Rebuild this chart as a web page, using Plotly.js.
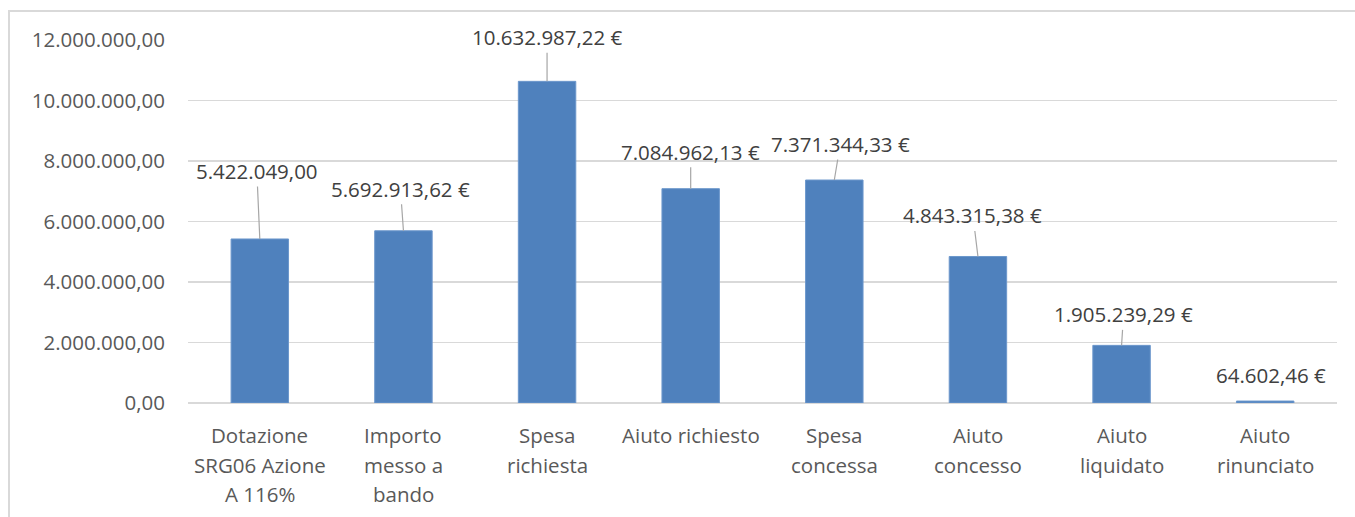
<!DOCTYPE html>
<html><head><meta charset="utf-8">
<script src="https://cdn.plot.ly/plotly-3.0.1.min.js"></script>
<style>
html,body{margin:0;padding:0;background:#fff;overflow:hidden}
#wrap{position:relative;width:1355px;height:517px;overflow:hidden}
#chart{width:1355px;height:517px}
#frame{position:absolute;left:8px;top:10px;width:1400px;height:600px;border:2px solid #d9d9d9;pointer-events:none}
</style></head><body>
<div id="wrap"><div id="chart"></div><div id="frame"></div></div>
<script>
// ---- data ----
const categoryLines = [
  ["Dotazione", "SRG06 Azione", "A 116%"],
  ["Importo", "messo a", "bando"],
  ["Spesa", "richiesta"],
  ["Aiuto richiesto"],
  ["Spesa", "concessa"],
  ["Aiuto", "concesso"],
  ["Aiuto", "liquidato"],
  ["Aiuto", "rinunciato"]
];
const categories = categoryLines.map(l => l.join(" "));
const values = [5422049.00, 5692913.62, 10632987.22, 7084962.13, 7371344.33, 4843315.38, 1905239.29, 64602.46];
const dataLabels = ["5.422.049,00", "5.692.913,62 €", "10.632.987,22 €", "7.084.962,13 €", "7.371.344,33 €", "4.843.315,38 €", "1.905.239,29 €", "64.602,46 €"];
const yTickValues = [0, 2000000, 4000000, 6000000, 8000000, 10000000, 12000000];

// ---- label placement (pixels) ----
const labelOffsetX = [-3, -3, 0, 0, 6, -5, 2, 6];
const labelOffsetY = [-68, -42, -44, -37, -36, -41, -31, -26];
const labelHasLeader = [true, true, true, true, true, true, true, false];

const FONT = "'Open Sans', Lato, sans-serif";
const FS = 20.5;

const trace = {
  type: "bar",
  x: categories,
  y: values,
  width: 0.4,
  marker: {color: "#4f81bd", line: {color: "#6c97cc", width: 1}},
  hoverinfo: "none"
};

const annotations = [];
values.forEach((v, i) => {
  if (labelHasLeader[i]) {
    annotations.push({
      x: categories[i], y: v, xref: "x", yref: "y",
      text: dataLabels[i], showarrow: true, arrowhead: 0, arrowwidth: 1.2,
      arrowcolor: "#a6a6a6", ax: labelOffsetX[i], ay: labelOffsetY[i],
      font: {family: FONT, size: FS, color: "#404040"}, borderpad: 1
    });
  } else {
    annotations.push({
      x: categories[i], y: v, xref: "x", yref: "y",
      text: dataLabels[i], showarrow: false, xshift: labelOffsetX[i], yshift: -labelOffsetY[i],
      yanchor: "middle", font: {family: FONT, size: FS, color: "#404040"}
    });
  }
});
categoryLines.forEach((lines, i) => {
  lines.forEach((t, j) => {
    annotations.push({
      x: categories[i], y: 0, xref: "x", yref: "paper",
      text: t, showarrow: false, yanchor: "middle", yshift: -(32 + j * 29.5),
      font: {family: FONT, size: FS, color: "#595959"}
    });
  });
});

const layout = {
  width: 1355, height: 517,
  margin: {l: 188, r: 18, t: 40, b: 114, pad: 0},
  paper_bgcolor: "#fff", plot_bgcolor: "#fff",
  separators: ",.",
  showlegend: false,
  font: {family: FONT, size: FS, color: "#595959"},
  xaxis: {
    type: "category", showticklabels: false, showgrid: false, zeroline: false,
    showline: false, ticks: "", range: [-0.5, 7.5]
  },
  yaxis: {
    range: [0, 12000000], tickvals: yTickValues, tickformat: ",.2f",
    showgrid: true, gridcolor: "#d9d9d9", gridwidth: 1.5,
    zeroline: true, zerolinecolor: "#d9d9d9", zerolinewidth: 1.5,
    showline: false, ticks: "", ticklabelstandoff: 22,
    tickfont: {family: FONT, size: FS, color: "#595959"}
  },
  annotations: annotations
};

Plotly.newPlot("chart", [trace], layout, {displayModeBar: false, staticPlot: true});
</script>
</body></html>
